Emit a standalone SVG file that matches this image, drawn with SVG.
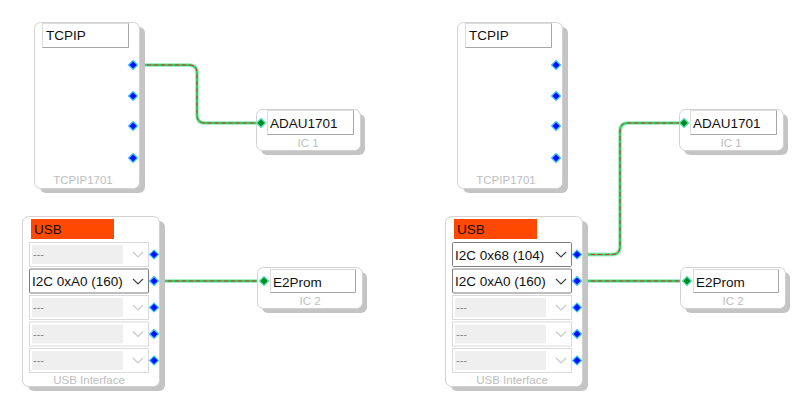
<svg xmlns="http://www.w3.org/2000/svg" width="812" height="407" viewBox="0 0 812 407">
<defs>
<style>
.shadow{fill:#c4c4c4}
.box{fill:#fff;stroke:#d2d2d2;stroke-width:1}
.ttl{fill:#fff;stroke:#dcdcdc;stroke-width:1}
.ttlb{stroke:#a6a6a6;stroke-width:1;fill:none}
.t{font-family:"Liberation Sans",Arial,sans-serif;font-size:13.5px;fill:#111}
.sub{font-family:"Liberation Sans",Arial,sans-serif;font-size:11.5px;fill:#bdbdbd;text-anchor:middle}
.usbh{fill:#ff4800}
.rowoff{fill:#fff;stroke:#dadada}
.rowin{fill:#efefef}
.rowon{fill:#fff;stroke:#7c7c7c}
.dash{font-family:"Liberation Sans",Arial,sans-serif;font-size:11px;fill:#888}
.chev{fill:none;stroke:#c8c8c8;stroke-width:1.2}
.chevon{fill:none;stroke:#444;stroke-width:1.2}
.pin{fill:#0010ff;stroke:#38c8ff;stroke-width:1.2}
.pinin{fill:#008a1e;stroke:#4fe0b0;stroke-width:1.2}
.w1{fill:none;stroke:#a6efc6;stroke-width:4}
.w2{fill:none;stroke:#3ec768;stroke-width:2}
.w3{fill:none;stroke:#d03a2a;stroke-width:1;stroke-dasharray:4 3}
</style>
<symbol id="pinsym" overflow="visible"><polygon points="0,-4.5 4.5,0 0,4.5 -4.5,0"/></symbol>
</defs>

<g id="connectors">
<g id="c1">
<path class="w1" d="M133,65 H189 Q197,65 197,73 V115 Q197,123 205,123 H261"/>
<path class="w2" d="M133,65 H189 Q197,65 197,73 V115 Q197,123 205,123 H261"/>
<path class="w3" d="M133,65 H189 Q197,65 197,73 V115 Q197,123 205,123 H261"/>
</g>
<g id="c2">
<path class="w1" d="M154,281 H264"/>
<path class="w2" d="M154,281 H264"/>
<path class="w3" d="M154,281 H264"/>
</g>
<g id="c3">
<path class="w1" d="M577,254.5 H612 Q620,254.5 620,246.5 V131 Q620,123 628,123 H684"/>
<path class="w2" d="M577,254.5 H612 Q620,254.5 620,246.5 V131 Q620,123 628,123 H684"/>
<path class="w3" d="M577,254.5 H612 Q620,254.5 620,246.5 V131 Q620,123 628,123 H684"/>
</g>
<g id="c4">
<path class="w1" d="M577,281 H687"/>
<path class="w2" d="M577,281 H687"/>
<path class="w3" d="M577,281 H687"/>
</g>
</g>

<!-- Left TCPIP -->
<g id="tcpip1" transform="translate(34,22)">
<rect class="shadow" x="6" y="5" width="105" height="166" rx="6"/>
<rect class="box" x="0.5" y="0.5" width="105" height="166" rx="6"/>
<rect class="ttl" x="8.5" y="1.5" width="86" height="24"/>
<path class="ttlb" d="M8.5,25.5 H94.5 V1.5"/>
<text class="t" x="12" y="18">TCPIP</text>
<g class="pin"><use href="#pinsym" x="99" y="43"/><use href="#pinsym" x="99" y="74"/><use href="#pinsym" x="99" y="104"/><use href="#pinsym" x="99" y="136"/></g>
<text class="sub" x="49" y="162">TCPIP1701</text>
</g>

<!-- Left ADAU -->
<g id="ic1a" transform="translate(256,109)">
<rect class="shadow" x="5" y="5" width="104" height="41" rx="6"/>
<rect class="box" x="0.5" y="0.5" width="104" height="41" rx="6"/>
<rect class="ttl" x="11.5" y="1.5" width="86" height="24"/>
<path class="ttlb" d="M11.5,25.5 H97.5 V1.5"/>
<text class="t" x="14" y="19">ADAU1701</text>
<g class="pinin"><use href="#pinsym" x="5" y="14"/></g>
<text class="sub" x="52" y="38">IC 1</text>
</g>

<!-- Left E2Prom -->
<g id="ic2a" transform="translate(257,267)">
<rect class="shadow" x="5" y="5" width="105" height="41" rx="6"/>
<rect class="box" x="0.5" y="0.5" width="105" height="41" rx="6"/>
<rect class="ttl" x="13.5" y="2.5" width="85" height="23"/>
<path class="ttlb" d="M13.5,25.5 H98.5 V2.5"/>
<text class="t" x="16" y="20">E2Prom</text>
<g class="pinin"><use href="#pinsym" x="7" y="14"/></g>
<text class="sub" x="53" y="38">IC 2</text>
</g>

<!-- Left USB -->
<g id="usb1" transform="translate(22,216)">
<rect class="shadow" x="6" y="5" width="137" height="170" rx="6"/>
<rect class="box" x="0.5" y="0.5" width="137" height="170" rx="6"/>
<rect class="usbh" x="9" y="3" width="83" height="20"/>
<text class="t" x="12" y="18">USB</text>
<g>
<rect class="rowoff" x="7.5" y="26.5" width="119" height="24"/><rect class="rowin" x="10" y="29" width="91" height="19"/><text class="dash" x="11" y="42">---</text><path class="chev" d="M111,36 L116,41 L121,36"/>
</g>
<g>
<rect class="rowon" x="7.5" y="53" width="119" height="24" rx="1"/><text class="t" x="10" y="70">I2C 0xA0 (160)</text><path class="chevon" d="M111,63 L116,68 L121,63"/>
</g>
<g>
<rect class="rowoff" x="7.5" y="79.5" width="119" height="24"/><rect class="rowin" x="10" y="82" width="91" height="19"/><text class="dash" x="11" y="95">---</text><path class="chev" d="M111,89 L116,94 L121,89"/>
</g>
<g>
<rect class="rowoff" x="7.5" y="106" width="119" height="24"/><rect class="rowin" x="10" y="108.5" width="91" height="19"/><text class="dash" x="11" y="121.5">---</text><path class="chev" d="M111,115.5 L116,120.5 L121,115.5"/>
</g>
<g>
<rect class="rowoff" x="7.5" y="132.5" width="119" height="24"/><rect class="rowin" x="10" y="135" width="91" height="19"/><text class="dash" x="11" y="148">---</text><path class="chev" d="M111,142 L116,147 L121,142"/>
</g>
<g class="pin"><use href="#pinsym" x="132" y="38.5"/><use href="#pinsym" x="132" y="65"/><use href="#pinsym" x="132" y="91.5"/><use href="#pinsym" x="132" y="118"/><use href="#pinsym" x="132" y="144.5"/></g>
<text class="sub" x="67" y="168">USB Interface</text>
</g>

<!-- Right TCPIP -->
<g id="tcpip2" transform="translate(457,22)">
<rect class="shadow" x="6" y="5" width="105" height="166" rx="6"/>
<rect class="box" x="0.5" y="0.5" width="105" height="166" rx="6"/>
<rect class="ttl" x="8.5" y="1.5" width="86" height="24"/>
<path class="ttlb" d="M8.5,25.5 H94.5 V1.5"/>
<text class="t" x="12" y="18">TCPIP</text>
<g class="pin"><use href="#pinsym" x="99" y="43"/><use href="#pinsym" x="99" y="74"/><use href="#pinsym" x="99" y="104"/><use href="#pinsym" x="99" y="136"/></g>
<text class="sub" x="49" y="162">TCPIP1701</text>
</g>

<!-- Right ADAU -->
<g id="ic1b" transform="translate(679,109)">
<rect class="shadow" x="5" y="5" width="104" height="41" rx="6"/>
<rect class="box" x="0.5" y="0.5" width="104" height="41" rx="6"/>
<rect class="ttl" x="11.5" y="1.5" width="86" height="24"/>
<path class="ttlb" d="M11.5,25.5 H97.5 V1.5"/>
<text class="t" x="14" y="19">ADAU1701</text>
<g class="pinin"><use href="#pinsym" x="5" y="14"/></g>
<text class="sub" x="52" y="38">IC 1</text>
</g>

<!-- Right E2Prom -->
<g id="ic2b" transform="translate(680,267)">
<rect class="shadow" x="5" y="5" width="105" height="41" rx="6"/>
<rect class="box" x="0.5" y="0.5" width="105" height="41" rx="6"/>
<rect class="ttl" x="13.5" y="2.5" width="85" height="23"/>
<path class="ttlb" d="M13.5,25.5 H98.5 V2.5"/>
<text class="t" x="16" y="20">E2Prom</text>
<g class="pinin"><use href="#pinsym" x="7" y="14"/></g>
<text class="sub" x="53" y="38">IC 2</text>
</g>

<!-- Right USB -->
<g id="usb2" transform="translate(445,216)">
<rect class="shadow" x="6" y="5" width="137" height="170" rx="6"/>
<rect class="box" x="0.5" y="0.5" width="137" height="170" rx="6"/>
<rect class="usbh" x="9" y="3" width="83" height="20"/>
<text class="t" x="12" y="18">USB</text>
<g>
<rect class="rowon" x="7.5" y="26.5" width="119" height="24" rx="1"/><text class="t" x="10" y="43.5">I2C 0x68 (104)</text><path class="chevon" d="M111,36 L116,41 L121,36"/>
</g>
<g>
<rect class="rowon" x="7.5" y="53" width="119" height="24" rx="1"/><text class="t" x="10" y="70">I2C 0xA0 (160)</text><path class="chevon" d="M111,63 L116,68 L121,63"/>
</g>
<g>
<rect class="rowoff" x="7.5" y="79.5" width="119" height="24"/><rect class="rowin" x="10" y="82" width="91" height="19"/><text class="dash" x="11" y="95">---</text><path class="chev" d="M111,89 L116,94 L121,89"/>
</g>
<g>
<rect class="rowoff" x="7.5" y="106" width="119" height="24"/><rect class="rowin" x="10" y="108.5" width="91" height="19"/><text class="dash" x="11" y="121.5">---</text><path class="chev" d="M111,115.5 L116,120.5 L121,115.5"/>
</g>
<g>
<rect class="rowoff" x="7.5" y="132.5" width="119" height="24"/><rect class="rowin" x="10" y="135" width="91" height="19"/><text class="dash" x="11" y="148">---</text><path class="chev" d="M111,142 L116,147 L121,142"/>
</g>
<g class="pin"><use href="#pinsym" x="132" y="38.5"/><use href="#pinsym" x="132" y="65"/><use href="#pinsym" x="132" y="91.5"/><use href="#pinsym" x="132" y="118"/><use href="#pinsym" x="132" y="144.5"/></g>
<text class="sub" x="67" y="168">USB Interface</text>
</g>
</svg>
